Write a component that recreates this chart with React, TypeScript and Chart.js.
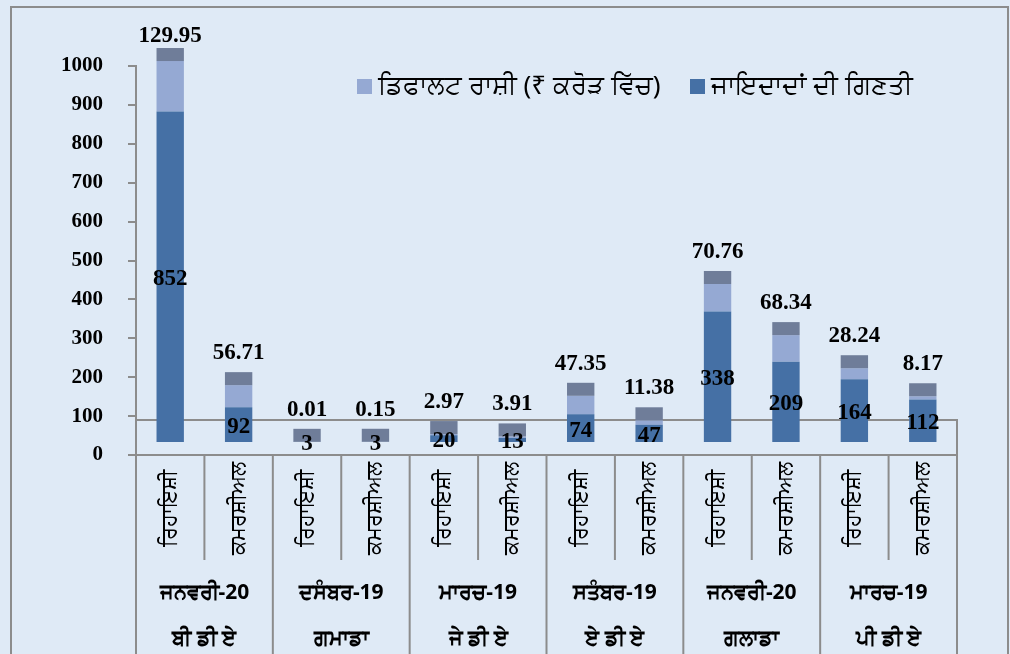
import { useEffect, useRef } from "react";
import { Chart, registerables } from "chart.js";

Chart.register(...registerables);

// ---- data ----
const categoryTypes = [
  "ਰਿਹਾਇਸ਼ੀ", "ਕਮਰਸ਼ੀਅਲ",
  "ਰਿਹਾਇਸ਼ੀ", "ਕਮਰਸ਼ੀਅਲ",
  "ਰਿਹਾਇਸ਼ੀ", "ਕਮਰਸ਼ੀਅਲ",
  "ਰਿਹਾਇਸ਼ੀ", "ਕਮਰਸ਼ੀਅਲ",
  "ਰਿਹਾਇਸ਼ੀ", "ਕਮਰਸ਼ੀਅਲ",
  "ਰਿਹਾਇਸ਼ੀ", "ਕਮਰਸ਼ੀਅਲ",
];
const periods = ["ਜਨਵਰੀ-20", "ਦਸੰਬਰ-19", "ਮਾਰਚ-19", "ਸਤੰਬਰ-19", "ਜਨਵਰੀ-20", "ਮਾਰਚ-19"];
const agencies = ["ਬੀ ਡੀ ਏ", "ਗਮਾਡਾ", "ਜੇ ਡੀ ਏ", "ਏ ਡੀ ਏ", "ਗਲਾਡਾ", "ਪੀ ਡੀ ਏ"];
const propertyCounts = [852, 92, 3, 3, 20, 13, 74, 47, 338, 209, 164, 112];
const defaultAmounts = [129.95, 56.71, 0.01, 0.15, 2.97, 3.91, 47.35, 11.38, 70.76, 68.34, 28.24, 8.17];
const amountSeriesLabel = "ਡਿਫਾਲਟ ਰਾਸ਼ੀ (₹ ਕਰੋੜ ਵਿੱਚ)";
const countSeriesLabel = "ਜਾਇਦਾਦਾਂ ਦੀ ਗਿਣਤੀ";
const yMin = 0;
const yMax = 1000;
const yStep = 100;

// ---- style ----
const BG = "#dfeaf6";
const GRAY = "#8c8c8c";
const DARK = "#4570a5";
const LIGHT = "#95a9d3";
const CAP = "#6f7d99";
const BAR_LIFT = 12;
const CAP_H = 13;
const FLOOR_DEPTH = 35;
const SERIF = "'Liberation Serif', 'Times New Roman', serif";
const SANS = "'Noto Sans', 'DejaVu Sans', sans-serif";

const threeD = {
  id: "threeD",
  beforeDraw(chart: any) {
    const { ctx, width, height } = chart;
    ctx.save();
    ctx.fillStyle = BG;
    ctx.fillRect(0, 0, width, height);
    ctx.strokeStyle = GRAY;
    ctx.lineWidth = 2;
    ctx.strokeRect(11, 7, 997, height + 20);
    ctx.restore();
  },
  beforeDatasetsDraw(chart: any) {
    const { ctx, chartArea: a, height } = chart;
    ctx.save();
    ctx.strokeStyle = GRAY;
    ctx.lineWidth = 2;
    ctx.beginPath();
    ctx.moveTo(a.left, a.bottom - FLOOR_DEPTH);
    ctx.lineTo(a.right, a.bottom - FLOOR_DEPTH);
    ctx.lineTo(a.right, height);
    ctx.stroke();
    ctx.restore();
    ctx.save();
    ctx.translate(0, -BAR_LIFT);
  },
  afterDatasetsDraw(chart: any) {
    const { ctx, chartArea: a, height, scales } = chart;
    ctx.restore();
    const y = scales.y;
    const x = scales.x;
    const metaCount = chart.getDatasetMeta(0);
    const n = categoryTypes.length;

    // caps + labels
    ctx.save();
    for (let i = 0; i < n; i++) {
      const bar = metaCount.data[i];
      const w = bar.width;
      const cx = bar.x;
      const total = propertyCounts[i] + defaultAmounts[i];
      const topY = y.getPixelForValue(total) - BAR_LIFT;
      ctx.fillStyle = CAP;
      ctx.fillRect(cx - w / 2, topY - CAP_H, w, CAP_H);

      ctx.fillStyle = "#000";
      ctx.font = `bold 23px ${SERIF}`;
      ctx.textAlign = "center";
      ctx.textBaseline = "middle";
      const capTop = topY - CAP_H;
      const amtY = Math.max(capTop - 19, 36);
      ctx.fillText(String(defaultAmounts[i]), cx, amtY);
      const midY = (y.getPixelForValue(0) + y.getPixelForValue(propertyCounts[i])) / 2 - BAR_LIFT;
      ctx.fillText(String(propertyCounts[i]), cx, midY + 2);
    }
    ctx.restore();

    // category axis table
    ctx.save();
    ctx.strokeStyle = GRAY;
    ctx.lineWidth = 2;
    ctx.beginPath();
    ctx.moveTo(a.left, a.bottom);
    ctx.lineTo(a.right, a.bottom);
    const pitch = (a.right - a.left) / n;
    for (let k = 0; k <= n; k++) {
      const px = a.left + k * pitch;
      ctx.moveTo(px, a.bottom);
      ctx.lineTo(px, k % 2 === 0 ? height : a.bottom + 105);
    }
    ctx.stroke();

    ctx.fillStyle = "#000";
    ctx.textBaseline = "middle";
    ctx.textAlign = "center";
    ctx.font = `21px ${SANS}`;
    for (let i = 0; i < n; i++) {
      const cx = x.getPixelForValue(i);
      ctx.save();
      ctx.translate(cx, a.bottom + 53);
      ctx.rotate(-Math.PI / 2);
      ctx.fillText(categoryTypes[i], 0, 0);
      ctx.restore();
    }
    ctx.font = `bold 21px ${SANS}`;
    for (let g = 0; g < periods.length; g++) {
      const gx = a.left + (2 * g + 1) * pitch;
      ctx.fillText(periods[g], gx, 593);
      ctx.fillText(agencies[g], gx, 639);
    }
    ctx.restore();

    // legend
    ctx.save();
    ctx.font = `26px ${SANS}`;
    ctx.textBaseline = "middle";
    ctx.textAlign = "left";
    const items = [
      { label: amountSeriesLabel, color: LIGHT, x: 357 },
      { label: countSeriesLabel, color: DARK, x: 690 },
    ];
    for (const it of items) {
      ctx.fillStyle = it.color;
      ctx.fillRect(it.x, 79, 15, 15);
      ctx.fillStyle = "#000";
      ctx.fillText(it.label, it.x + 21, 87);
    }
    ctx.restore();
  },
};

export default function App() {
  const ref = useRef<HTMLCanvasElement>(null);
  useEffect(() => {
    const chart = new Chart(ref.current as HTMLCanvasElement, {
      type: "bar",
      data: {
        labels: categoryTypes,
        datasets: [
          {
            label: countSeriesLabel,
            data: propertyCounts,
            backgroundColor: DARK,
            barPercentage: 0.4,
            categoryPercentage: 1,
            clip: false,
          } as any,
          {
            label: amountSeriesLabel,
            data: defaultAmounts,
            backgroundColor: LIGHT,
            barPercentage: 0.4,
            categoryPercentage: 1,
            clip: false,
          } as any,
        ],
      },
      options: {
        responsive: false,
        animation: false,
        layout: { padding: { left: 0, right: 53, top: 66, bottom: 199 } },
        plugins: { legend: { display: false }, tooltip: { enabled: false } },
        scales: {
          x: { display: false, stacked: true },
          y: {
            stacked: true,
            min: yMin,
            max: yMax,
            ticks: {
              stepSize: yStep,
              color: "#000",
              padding: 25,
              font: { family: SERIF, weight: "bold", size: 21 },
              callback: (v: any) => String(v),
            },
            grid: { drawOnChartArea: false, color: GRAY, lineWidth: 2, tickLength: 8 },
            border: { color: GRAY, width: 2 },
            afterFit: (s: any) => {
              s.width = 136;
            },
          } as any,
        },
      },
      plugins: [threeD],
    });
    return () => chart.destroy();
  }, []);
  return (
    <div style={{ position: "fixed", left: 0, top: 0, width: 1010, height: 654 }}>
      <canvas ref={ref} width={1010} height={654} style={{ display: "block" }} />
    </div>
  );
}
